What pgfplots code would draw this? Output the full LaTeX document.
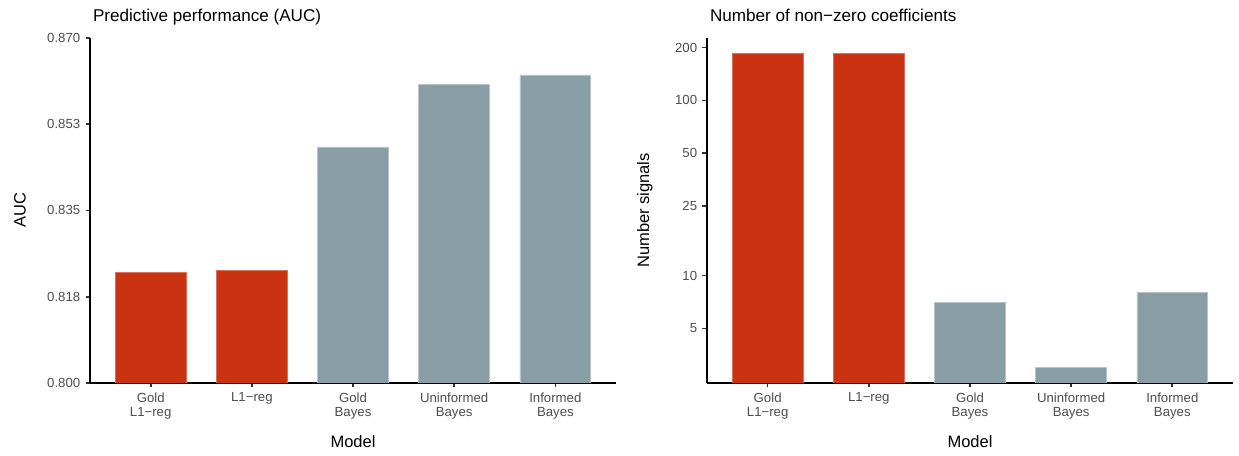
\documentclass[border=0pt]{standalone}
\usepackage{fontspec}
\setmainfont{Liberation Sans}
\usepackage{pgfplots}
\pgfplotsset{compat=1.18}
\definecolor{royred}{HTML}{C93312}
\definecolor{roygray}{HTML}{899DA4}
\definecolor{tickgray}{HTML}{4D4D4D}
\pgfplotsset{
 mystyle/.style={
  scale only axis, width=350.7pt, height=230pt,
  axis x line*=bottom, axis y line*=left,
  axis line style={line width=1.2pt, black, -},
  tick style={line width=1.1pt, color=black!80},
  tick align=outside, major tick length=3pt,
  xmin=0.4, xmax=5.6, xtick={1,2,3,4,5},
  xticklabels={{Gold\\L1−reg},{L1−reg},{Gold\\Bayes},{Uninformed\\Bayes},{Informed\\Bayes}},
  xticklabel style={align=center, font=\fontsize{8.8}{9.4}\selectfont, text=tickgray},
  yticklabel style={font=\fontsize{8.8}{9.4}\selectfont, text=tickgray},
  /pgf/number format/assume math mode=true,
  ybar, bar width=0.7, bar shift=0pt,
  title style={at={(axis description cs:0,1)}, anchor=base west, xshift=-1.5pt, yshift=5pt, font=\fontsize{11.4}{13}\selectfont},
  xlabel style={at={(axis description cs:0.5,-0.188)}, anchor=base, font=\fontsize{11}{13}\selectfont},
  ylabel style={anchor=center, font=\fontsize{11}{13}\selectfont},
  redbar/.style={fill=royred, draw=royred!70!white, line width=0.4pt},
  graybar/.style={fill=roygray, draw=roygray!60!white, line width=0.4pt},
 }
}
\begin{document}
\begin{tikzpicture}
\useasboundingbox (0,0) rectangle (826pt,304pt);
\begin{axis}[mystyle, at={(60pt,48.7pt)}, anchor=south west,
  ymin=0.8, ymax=0.87,
  ytick={0.8,0.8175,0.835,0.8525,0.87},
  yticklabels={0.800,0.818,0.835,0.853,0.870},
  title={Predictive performance (AUC)},
  xlabel={Model}, ylabel={AUC},
  ylabel style={at={(axis description cs:-0.133,0.5)}},
]
\addplot[redbar] coordinates {(1,0.8225) (2,0.8229)};
\addplot[graybar] coordinates {(3,0.8479) (4,0.8605) (5,0.8625)};
\end{axis}
\begin{axis}[mystyle, at={(471.3pt,48.7pt)}, anchor=south west,
  ymode=log, log origin=infty,
  ymin=2.44, ymax=227,
  ytick={5,10,25,50,100,200},
  yticklabels={5,10,25,50,100,200},
  title={Number of non−zero coefficients},
  xlabel={Model}, ylabel={Number signals},
  ylabel style={at={(axis description cs:-0.118,0.5)}},
]
\addplot[redbar] coordinates {(1,186) (2,186)};
\addplot[graybar] coordinates {(3,7) (4,3) (5,8)};
\end{axis}
\end{tikzpicture}
\end{document}
